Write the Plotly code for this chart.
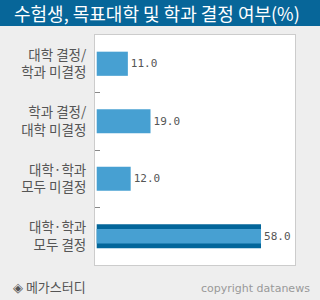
import plotly.graph_objects as go

categories = ["대학 결정/<br>학과 미결정", "학과 결정/<br>대학 미결정", "대학·학과<br>모두 미결정", "대학·학과<br>모두 결정"]
values = [11.0, 19.0, 12.0, 58.0]
highlight = [False, False, False, True]

title_text = "수험생, 목표대학 및 학과 결정 여부(%)"
source_text = "◈ 메가스터디"
copyright_text = "copyright datanews"

LIGHT = "#47a0d2"
DARK = "#03669a"

W, H = 320, 300
L, R, T, B = 95, 25, 35, 35
pw, ph = W - L - R, H - T - B

def px_x(x):
    return (x - L) / pw

def px_y(y):
    return 1 - (y - T) / ph

pos = list(range(len(categories)))
boundaries = [p + 0.5 for p in pos[:-1]]

fig = go.Figure()
fig.add_trace(go.Bar(
    y=pos, x=values, orientation="h",
    marker=dict(color=[DARK if h else LIGHT for h in highlight], line=dict(width=0)),
    width=0.42,
    texttemplate="%{x:.1f}", textposition="outside",
    textfont=dict(family="DejaVu Sans Mono", size=11, color="#555555"),
    cliponaxis=False, hoverinfo="skip",
))
hy = [p for p, h in zip(pos, highlight) if h]
hx = [v for v, h in zip(values, highlight) if h]
fig.add_trace(go.Bar(
    y=hy, x=hx, orientation="h",
    marker=dict(color=LIGHT, line=dict(width=0)),
    width=0.25, hoverinfo="skip",
))

fig.update_layout(
    width=W, height=H,
    margin=dict(l=L, r=R, t=T, b=B, pad=0),
    paper_bgcolor="#eeeeee", plot_bgcolor="#ffffff",
    barmode="overlay", showlegend=False,
    font=dict(family="Noto Sans CJK KR", color="#555555"),
    xaxis=dict(range=[-0.6, 70], showgrid=False, zeroline=False, showticklabels=False,
               showline=True, mirror=True, linecolor="#cccccc", linewidth=1, ticks="", fixedrange=True),
    yaxis=dict(range=[len(categories) - 0.5, -0.5], showgrid=False, zeroline=False,
               showline=True, mirror=True, linecolor="#cccccc", linewidth=1,
               tickmode="array", tickvals=pos, ticktext=categories, ticks="",
               minor=dict(tickmode="array", tickvals=boundaries, ticks="inside", ticklen=5,
                          tickwidth=1, tickcolor="#888888", showgrid=False),
               tickfont=dict(family="Noto Sans CJK KR", size=13.5, color="#555555"),
               ticklabelstandoff=5),
    shapes=[dict(type="rect", xref="paper", yref="paper",
                 x0=px_x(0), x1=px_x(W), y0=px_y(26), y1=px_y(0),
                 fillcolor="#076699", line=dict(width=0), layer="above")],
    annotations=[
        dict(text=title_text, xref="paper", yref="paper", x=px_x(12), y=px_y(13),
             xanchor="left", yanchor="middle", showarrow=False,
             font=dict(family="Noto Sans CJK KR", size=18, color="#ffffff")),
        dict(text=source_text, xref="paper", yref="paper", x=px_x(11), y=px_y(286),
             xanchor="left", yanchor="middle", showarrow=False,
             font=dict(family="Noto Sans CJK KR", size=13, color="#555555")),
        dict(text=copyright_text, xref="paper", yref="paper", x=px_x(312), y=px_y(288),
             xanchor="right", yanchor="middle", showarrow=False,
             font=dict(family="DejaVu Sans", size=11, color="#999999")),
    ],
)

fig.write_html("out.html")
